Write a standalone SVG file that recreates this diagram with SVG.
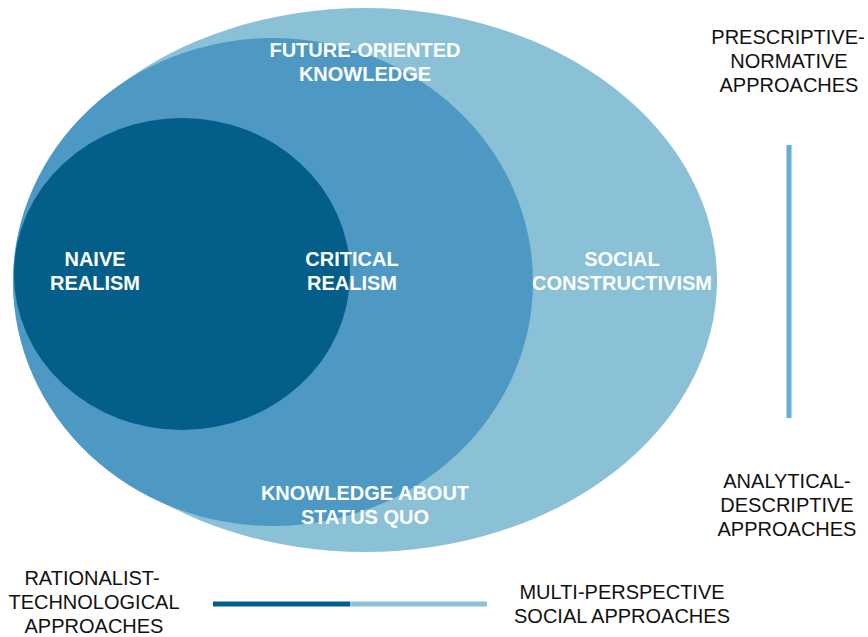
<svg xmlns="http://www.w3.org/2000/svg" width="868" height="637" viewBox="0 0 868 637">
  <style>
    .lbl { font-family: "Liberation Sans", Arial, sans-serif; font-size: 20px; font-weight: bold; fill: #ffffff; text-anchor: middle; }
    .side { font-family: "Liberation Sans", Arial, sans-serif; font-size: 20px; fill: #111111; text-anchor: middle; }
    .axis { stroke-width: 5; fill: none; }
  </style>
  <rect width="868" height="637" fill="#ffffff"/>
  <g id="social-constructivism">
    <ellipse cx="365" cy="280" rx="352" ry="272" fill="#8AC1D6"/>
  </g>
  <g id="critical-realism">
    <ellipse cx="273" cy="282" rx="260" ry="244" fill="#4D99C4"/>
  </g>
  <g id="naive-realism">
    <ellipse cx="182" cy="274" rx="168" ry="156" fill="#035F8A"/>
  </g>
  <g id="labels">
    <text class="lbl" x="95" y="266">NAIVE</text>
    <text class="lbl" x="95" y="290">REALISM</text>
    <text class="lbl" x="352" y="266">CRITICAL</text>
    <text class="lbl" x="352" y="290">REALISM</text>
    <text class="lbl" x="622" y="266">SOCIAL</text>
    <text class="lbl" x="622" y="290">CONSTRUCTIVISM</text>
    <text class="lbl" x="365" y="57">FUTURE-ORIENTED</text>
    <text class="lbl" x="365" y="81">KNOWLEDGE</text>
    <text class="lbl" x="365" y="500">KNOWLEDGE ABOUT</text>
    <text class="lbl" x="365" y="524">STATUS QUO</text>
  </g>
  <g id="connectors">
    <line class="axis" x1="789" y1="145" x2="789" y2="418" stroke="#65ADD6"/>
    <line class="axis" x1="213" y1="604" x2="350" y2="604" stroke="#005E8A"/>
    <line class="axis" x1="350" y1="604" x2="487" y2="604" stroke="#8BC3DA"/>
  </g>
  <g id="prescriptive">
    <text class="side" x="788" y="44">PRESCRIPTIVE-</text>
    <text class="side" x="789" y="68">NORMATIVE</text>
    <text class="side" x="789" y="92">APPROACHES</text>
  </g>
  <g id="analytical">
    <text class="side" x="787" y="488">ANALYTICAL-</text>
    <text class="side" x="787" y="512">DESCRIPTIVE</text>
    <text class="side" x="787" y="536">APPROACHES</text>
  </g>
  <g id="rationalist">
    <text class="side" x="92" y="585">RATIONALIST-</text>
    <text class="side" x="94" y="609">TECHNOLOGICAL</text>
    <text class="side" x="94" y="633">APPROACHES</text>
  </g>
  <g id="multi-perspective">
    <text class="side" x="622" y="599">MULTI-PERSPECTIVE</text>
    <text class="side" x="622" y="623">SOCIAL APPROACHES</text>
  </g>
</svg>
